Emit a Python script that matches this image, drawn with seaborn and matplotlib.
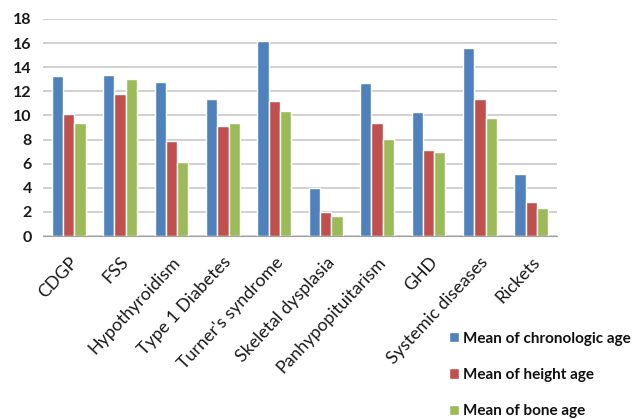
import numpy as np
import pandas as pd
import matplotlib
matplotlib.use("Agg")
import matplotlib.pyplot as plt
import seaborn as sns

categories = ["CDGP", "FSS", "Hypothyroidism", "Type 1 Diabetes", "Turner's syndrome",
              "Skeletal dysplasia", "Panhypopituitarism", "GHD", "Systemic diseases", "Rickets"]
chronologic_age = [13.3, 13.35, 12.8, 11.4, 16.2, 4.0, 12.65, 10.3, 15.6, 5.15]
height_age = [10.1, 11.8, 7.9, 9.15, 11.2, 2.0, 9.35, 7.15, 11.35, 2.85]
bone_age = [9.4, 13.0, 6.15, 9.35, 10.35, 1.7, 8.05, 6.95, 9.8, 2.35]
series_names = ["Mean of chronologic age", "Mean of height age", "Mean of bone age"]
colors = ["#4F81BD", "#C0504D", "#9BBB59"]

rows = []
for name, vals in zip(series_names, [chronologic_age, height_age, bone_age]):
    for cat, v in zip(categories, vals):
        rows.append({"category": cat, "series": name, "value": v})
df = pd.DataFrame(rows)

sns.set_style("white")
plt.rcParams["font.family"] = ["Lato", "DejaVu Sans"]

fig = plt.figure(figsize=(6.39, 4.19), dpi=100)
ax = fig.add_axes([43 / 639, 1 - 236 / 419, (557 - 43) / 639, (236 - 19) / 419])

sns.barplot(data=df, x="category", y="value", hue="series", order=categories,
            hue_order=series_names, palette=colors, width=0.66, saturation=1,
            ax=ax, legend=True)

ax.set_ylim(0, 18)
ax.set_xlim(-0.5, len(categories) - 0.5)
ax.set_yticks(range(0, 19, 2))
ax.yaxis.grid(True, color="#c8c8c8", linewidth=1.2)
ax.set_axisbelow(True)
for s in ["top", "right", "left"]:
    ax.spines[s].set_visible(False)
ax.spines["bottom"].set_color("#a0a0a0")
ax.set_xlabel("")
ax.set_ylabel("")

ax.tick_params(axis="y", length=0, pad=8, labelsize=11.5, labelcolor="#1a1a1a")
for t in ax.get_yticklabels():
    t.set_fontweight("bold")

# category labels, with boundary ticks between groups
ax.set_xticks(np.arange(len(categories)))
ax.set_xticklabels(categories, rotation=47, ha="right", rotation_mode="anchor",
                   fontsize=12.8, color="#1a1a1a")
ax.tick_params(axis="x", which="major", length=0, pad=13)
ax.set_xticks(np.arange(-0.5, len(categories)), minor=True)
ax.tick_params(axis="x", which="minor", length=5, color="#a0a0a0", width=1)

handles, labels = ax.get_legend_handles_labels()
ax.legend_.remove()
leg = fig.legend(handles, labels, loc="upper left", bbox_to_anchor=(435 / 639, 1 - 318 / 419),
                 frameon=False, handlelength=0.65, handleheight=0.65, handletextpad=0.3,
                 labelspacing=1.45, prop={"weight": "bold", "size": 11})
for t in leg.get_texts():
    t.set_color("#111111")

fig.savefig("out.png", dpi=100)
